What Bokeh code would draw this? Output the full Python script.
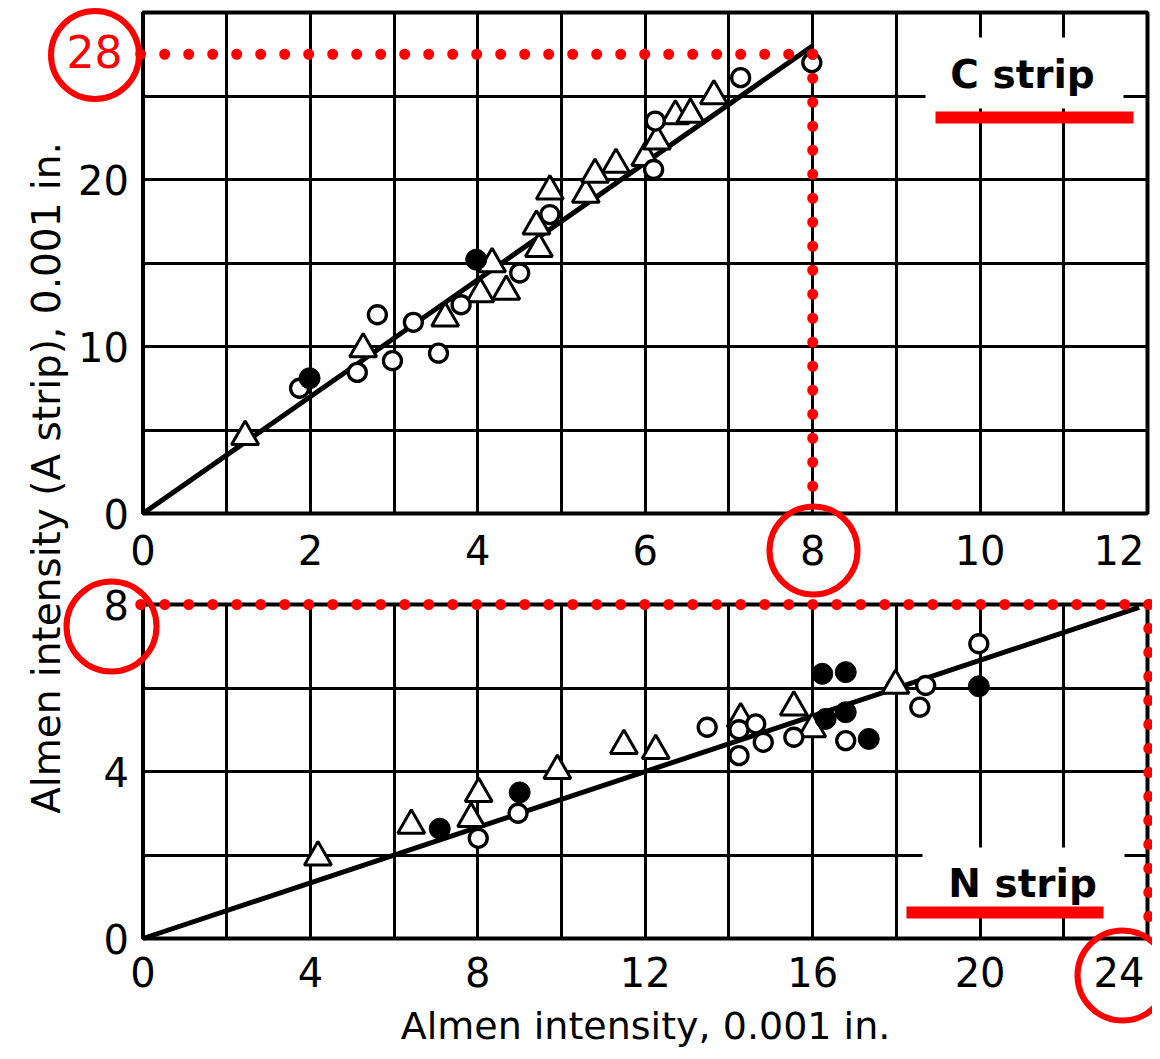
import numpy as np
from bokeh.plotting import figure
from bokeh.models import (Range1d, SingleIntervalTicker, FixedTicker, Label,
                          LinearAxis, Grid)
from bokeh.embed import file_html
from bokeh.resources import INLINE
from bokeh.core.properties import value

# ---------------- data: upper panel (C strip -> A strip) ----------------
top_open_x = [1.87, 2.56, 2.80, 2.98, 3.23, 3.53, 3.80, 4.50, 4.86, 6.10, 6.12, 7.14, 7.99]
top_open_y = [7.5, 8.45, 11.9, 9.15, 11.45, 9.6, 12.5, 14.4, 17.9, 20.6, 23.5, 26.1, 27.0]
top_solid_x = [1.99, 3.98]
top_solid_y = [8.1, 15.2]
top_tri_x = [1.22, 2.63, 3.61, 4.03, 4.17, 4.34, 4.73, 4.70, 4.86, 5.29, 5.40, 5.65, 6.00, 6.14, 6.36, 6.54, 6.82]
top_tri_y = [4.6, 9.85, 11.7, 13.15, 14.95, 13.3, 15.85, 17.2, 19.3, 19.1, 20.3, 20.9, 21.3, 22.3, 23.8, 23.9, 25.0]
top_fit_x = [0, 8]
top_fit_y = [0, 28]

# ---------------- data: lower panel (N strip -> A strip) ----------------
bot_open_x = [8.01, 8.96, 13.48, 14.24, 14.24, 14.64, 14.82, 15.55, 16.79, 18.56, 18.70, 19.97]
bot_open_y = [2.40, 3.00, 5.06, 5.00, 4.38, 5.14, 4.70, 4.82, 4.74, 5.54, 6.06, 7.06]
bot_solid_x = [7.09, 9.00, 16.23, 16.79, 16.31, 16.79, 17.34, 19.97]
bot_solid_y = [2.63, 3.50, 6.34, 6.38, 5.26, 5.42, 4.78, 6.04]
bot_tri_x = [4.18, 6.41, 7.84, 8.02, 9.90, 11.49, 12.25, 14.28, 15.55, 15.99, 17.98]
bot_tri_y = [1.95, 2.71, 2.87, 3.47, 4.02, 4.62, 4.50, 5.26, 5.54, 5.02, 6.06]
bot_fit_x = [0, 23.8]
bot_fit_y = [0, 7.93]

# ---------------- axes ----------------
top_x_max, top_y_max = 12, 30
bot_x_max, bot_y_max = 24, 8
top_x_ticks = [0, 2, 4, 6, 8, 10, 12]
top_y_ticks = [0, 10, 20]
bot_x_ticks = [0, 4, 8, 12, 16, 20, 24]
bot_y_ticks = [0, 4, 8]
top_x_labels = {12: "12\u2009"}
bot_x_labels = {24: "24\u2009"}
x_title = "Almen intensity, 0.001 in."
y_title = "Almen intensity (A strip), 0.001 in."

# ---------------- annotations ----------------
top_strip = "C strip"
bot_strip = "N strip"
top_guide = (8, 27.5)      # red dotted read-off
bot_guide = (24.03, 8)
top_guide_label = "28"

FONT = "DejaVu Sans"
RED = "#ff0000"

# ---------------- geometry (canvas pixels) ----------------
W, H = 1152, 1051
TOP_BOX = (142.5, 1147.0, 12.0, 513.0)   # left, right, top, bottom of the data box
BOT_BOX = (142.5, 1147.0, 604.0, 938.0)


def ranges_for(box, xmax, ymax):
    l, r, t, b = box
    kx = xmax / (r - l)
    ky = ymax / (b - t)
    xr = Range1d(-l * kx, xmax + (W - r) * kx)
    yr = Range1d(-(H - b) * ky, ymax + t * ky)

    def conv(px, py):
        return ((px - l) * kx, (b - py) * ky)
    return xr, yr, conv


txr, tyr, tpx = ranges_for(TOP_BOX, top_x_max, top_y_max)
bxr, byr, bpx = ranges_for(BOT_BOX, bot_x_max, bot_y_max)

p = figure(width=W, height=H, x_range=txr, y_range=tyr,
           x_axis_location=None, y_axis_location=None, min_border=0,
           output_backend="svg", toolbar_location=None)
p.extra_x_ranges = {"bx": bxr}
p.extra_y_ranges = {"by": byr}
p.grid.visible = False
p.outline_line_color = None
p.background_fill_color = "white"
p.border_fill_color = "white"

TOP = dict()
BOT = dict(x_range_name="bx", y_range_name="by")


def add_axes(rn, xticks, yticks, xover, xstand, ystand, xmax, ymax):
    ax = LinearAxis(fixed_location=0, ticker=FixedTicker(ticks=xticks), bounds=(0, xmax),
                    major_label_overrides=xover, **rn)
    ay = LinearAxis(fixed_location=0, ticker=FixedTicker(ticks=yticks), bounds=(0, ymax), **rn)
    for a, st in ((ax, xstand), (ay, ystand)):
        a.axis_line_color = None
        a.major_tick_line_color = None
        a.minor_tick_line_color = None
        a.major_tick_out = 0
        a.major_tick_in = 0
        a.major_label_text_font = FONT
        a.major_label_text_font_size = "40px"
        a.major_label_text_color = "black"
        a.major_label_standoff = st
    p.add_layout(ax, "below")
    p.add_layout(ay, "left")
    return ax, ay


def add_grids(rn, xint, yint, xmax, ymax):
    gx = Grid(dimension=0, ticker=SingleIntervalTicker(interval=xint),
              bounds=(0, xmax), cross_bounds=(0, ymax), **rn)
    gy = Grid(dimension=1, ticker=SingleIntervalTicker(interval=yint),
              bounds=(0, ymax), cross_bounds=(0, xmax), **rn)
    for g in (gx, gy):
        g.grid_line_color = "black"
        g.grid_line_width = 3
        g.grid_line_alpha = 1
        p.add_layout(g)


def markers(rn, ox, oy, sx, sy, tx, ty):
    p.scatter(tx, ty, marker="triangle", size=27, fill_color="white",
              line_color="black", line_width=3, **rn)
    p.scatter(ox, oy, marker="circle", size=18, fill_color="white",
              line_color="black", line_width=3.3, **rn)
    p.scatter(sx, sy, marker="circle", size=21, fill_color="black",
              line_color="black", line_width=1, **rn)


def dotted(rn, xs, ys):
    p.line(xs, ys, line_color=RED, line_width=11, line_dash="0 24",
           line_cap="round", **rn)


def ring(conv, rn, px, py, d):
    x, y = conv(px, py)
    p.scatter([x], [y], marker="circle", size=d, fill_color=None,
              line_color=RED, line_width=6, **rn)


# ================= upper panel =================
add_grids(TOP, 1, 5, top_x_max, top_y_max)
add_axes(TOP, top_x_ticks, top_y_ticks, top_x_labels, 14, 14, top_x_max, top_y_max)

bx0, by0 = tpx(925, 108)
bx1, by1 = tpx(1123, 37)
p.quad(left=[bx0], right=[bx1], bottom=[by0], top=[by1], fill_color="white", line_color=None)
p.quad(left=[0], right=[top_x_max], bottom=[0], top=[top_y_max],
       fill_color=None, line_color="black", line_width=4)
p.line(top_fit_x, top_fit_y, line_color="black", line_width=5)
markers(TOP, top_open_x, top_open_y, top_solid_x, top_solid_y, top_tri_x, top_tri_y)

gx0, _ = tpx(128, 0)
_, gy1 = tpx(0, 497)
dotted(TOP, [top_guide[0], gx0], [top_guide[1], top_guide[1]])
dotted(TOP, [top_guide[0], top_guide[0]], [top_guide[1], gy1])

rx0, ry0 = tpx(935, 123)
rx1, ry1 = tpx(1133, 111)
p.quad(left=[rx0], right=[rx1], bottom=[ry0], top=[ry1], fill_color=RED, line_color=None)
lx, ly = tpx(1022, 74)
p.text(x=[lx], y=[ly], text=[top_strip], text_font=value(FONT), text_font_style="bold",
       text_font_size="39px", text_align="center", text_baseline="alphabetic", text_color="black")

# ================= lower panel =================
add_grids(BOT, 2, 2, bot_x_max, bot_y_max)
axb, ayb = add_axes(BOT, bot_x_ticks, bot_y_ticks, bot_x_labels, 11, 14, bot_x_max, bot_y_max)
axb.axis_label = x_title
axb.axis_label_text_font = FONT
axb.axis_label_text_font_size = "38px"
axb.axis_label_text_font_style = "normal"
axb.axis_label_text_color = "black"
axb.axis_label_standoff = 5

bx0, by0 = bpx(922, 916)
bx1, by1 = bpx(1124, 847)
p.quad(left=[bx0], right=[bx1], bottom=[by0], top=[by1], fill_color="white",
       line_color=None, **BOT)
p.quad(left=[0], right=[bot_x_max], bottom=[0], top=[bot_y_max],
       fill_color=None, line_color="black", line_width=4, **BOT)
p.line(bot_fit_x, bot_fit_y, line_color="black", line_width=5, **BOT)
markers(BOT, bot_open_x, bot_open_y, bot_solid_x, bot_solid_y, bot_tri_x, bot_tri_y)

gx0, _ = bpx(139, 0)
_, gy1 = bpx(0, 934)
dotted(BOT, [bot_guide[0], gx0], [bot_guide[1], bot_guide[1]])
dotted(BOT, [bot_guide[0], bot_guide[0]], [bot_guide[1], gy1])

rx0, ry0 = bpx(906, 918)
rx1, ry1 = bpx(1103, 906)
p.quad(left=[rx0], right=[rx1], bottom=[ry0], top=[ry1], fill_color=RED,
       line_color=None, **BOT)
lx, ly = bpx(1022, 883)
p.text(x=[lx], y=[ly], text=[bot_strip], text_font=value(FONT), text_font_style="bold",
       text_font_size="39px", text_align="center", text_baseline="alphabetic",
       text_color="black", **BOT)

# ================= red read-off circles =================
ring(tpx, TOP, 94.5, 54.5, 88)
ring(tpx, TOP, 813, 550, 88)
ring(bpx, BOT, 111, 626, 90)
ring(bpx, BOT, 1122, 975, 90)
gx, gy = tpx(94, 51)
p.text(x=[gx], y=[gy], text=[top_guide_label], text_font=value(FONT), text_font_size="44px",
       text_align="center", text_baseline="middle", text_color=RED)

# ================= shared y title =================
yx, yy = tpx(46, 477.5)
p.add_layout(Label(x=yx, y=yy, text=y_title, angle=np.pi / 2,
                   text_align="center", text_baseline="alphabetic", text_font=FONT,
                   text_font_size="39px", text_color="black"))

open("out.html", "w").write(file_html(p, INLINE))
